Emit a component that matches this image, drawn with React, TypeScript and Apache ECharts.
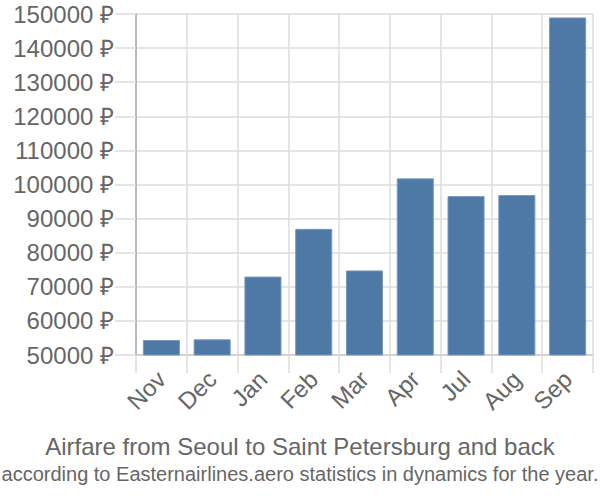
import React, { useEffect, useRef } from "react";
import * as echarts from "echarts";

const months = ["Nov", "Dec", "Jan", "Feb", "Mar", "Apr", "Jul", "Aug", "Sep"];
const prices = [54400, 54600, 73000, 87000, 74800, 101800, 96600, 96900, 149000];
const titleText = "Airfare from Seoul to Saint Petersburg and back";
const subtitleText = "according to Easternairlines.aero statistics in dynamics for the year.";

export default function App() {
  const ref = useRef<HTMLDivElement>(null);
  useEffect(() => {
    document.body.style.margin = "0";
    if (!ref.current) return;
    const chart = echarts.init(ref.current, undefined, { renderer: "svg" });
    chart.setOption({
      animation: false,
      textStyle: { fontFamily: "Liberation Sans, Arial, sans-serif" },
      title: {
        text: titleText,
        subtext: subtitleText,
        left: "center",
        top: 429,
        itemGap: 6,
        textStyle: { fontSize: 24, fontWeight: "normal", color: "#666", fontFamily: "Liberation Sans" },
        subtextStyle: { fontSize: 20, color: "#666", fontFamily: "Liberation Sans" },
      },
      grid: { left: 136, right: 7, top: 14, bottom: 145 },
      xAxis: {
        type: "category",
        data: months,
        boundaryGap: true,
        axisLine: { show: true, lineStyle: { color: "#ccc", width: 1.5 } },
        axisTick: { show: true, length: 18, lineStyle: { color: "#ddd", width: 1.5 } },
        splitLine: { show: true, lineStyle: { color: "#ddd", width: 1.5 } },
        axisLabel: { rotate: 45, fontSize: 24, color: "#666", margin: 20 },
      },
      yAxis: {
        type: "value",
        min: 50000,
        max: 150000,
        interval: 10000,
        axisLine: { show: true, lineStyle: { color: "#aaa", width: 1.5 } },
        axisTick: { show: true, length: 21, lineStyle: { color: "#ddd", width: 1.5 } },
        splitLine: { show: true, lineStyle: { color: "#ddd", width: 1.5 } },
        axisLabel: { fontSize: 24, color: "#666", margin: 22, formatter: (v: number) => `${v} ₽` },
      },
      series: [
        {
          type: "bar",
          data: prices,
          barCategoryGap: "27%",
          itemStyle: { color: "#4e78a6", borderColor: "#7a98bd", borderWidth: 1 },
        },
      ],
    });
    return () => chart.dispose();
  }, []);
  return <div ref={ref} style={{ width: 600, height: 500 }} />;
}
